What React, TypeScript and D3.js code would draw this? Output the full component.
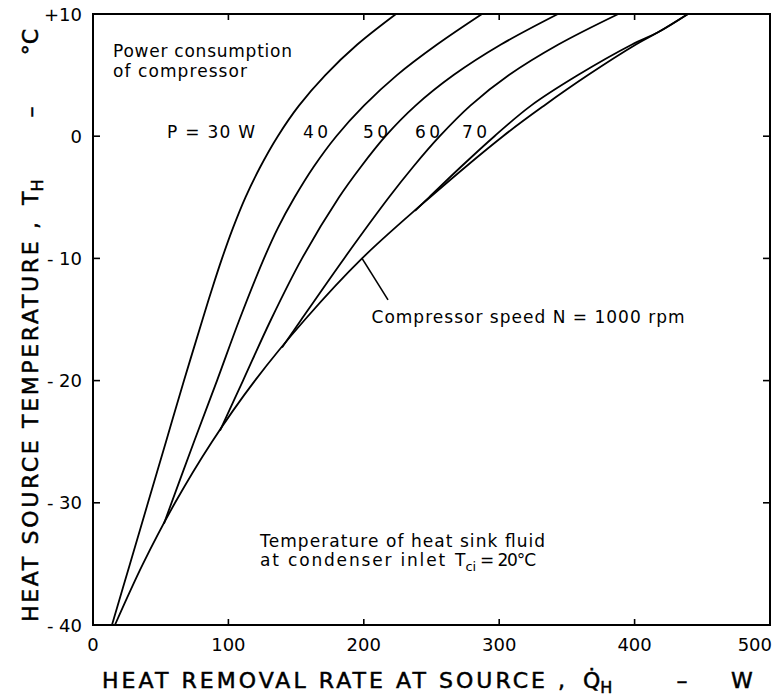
import * as d3 from "d3";

// axis ticks
const xTicks = [0, 100, 200, 300, 400, 500];
const yTicks = [10, 0, -10, -20, -30, -40];
const yTickLabels = ["+10", "0", "- 10", "- 20", "- 30", "- 40"];

// constant power curves, [Q_H (W), T_H (°C)]
const curveP30: [number, number][] = [
  [14.0, -40], [27.3, -35], [40.6, -30], [53.9, -25], [67.2, -20], [80.9, -15],
  [87.9, -12.5], [95.3, -10], [103.4, -7.5], [112.6, -5], [123.6, -2.5],
  [136.5, 0], [152.1, 2.5], [171.6, 5], [195.2, 7.5], [223.8, 10],
];
const curveP40: [number, number][] = [
  [52.4, -31.7], [74.6, -25], [91.6, -20], [108.2, -15], [126.3, -10],
  [136.6, -7.5], [148.9, -5], [163.0, -2.5], [179.7, 0], [200.1, 2.5],
  [224.5, 5], [254.1, 7.5], [287.3, 10],
];
const curveP50: [number, number][] = [
  [93.8, -24.1], [110.8, -20], [131.5, -15], [154.4, -10], [181.7, -5],
  [197.9, -2.5], [216.0, 0], [238.2, 2.5], [266.3, 5], [301.3, 7.5], [343.4, 10],
];
const curveP60: [number, number][] = [
  [139.6, -17.3], [153.9, -15], [185.5, -10], [218.6, -5], [236.5, -2.5],
  [256.1, 0], [278.7, 2.5], [307.2, 5], [343.7, 7.5], [388.0, 10],
];
const curveP70: [number, number][] = [
  [237.8, -6.1], [248.2, -5], [271.8, -2.5], [296.5, 0], [323.5, 2.5],
  [358.2, 5], [398.1, 7.5], [417.3, 8.5], [439.4, 10],
];
// compressor speed N = 1000 rpm
const curveN1000: [number, number][] = [
  [16.2, -40], [36.9, -35], [60.6, -30], [87.9, -25], [119.6, -20],
  [156.6, -15], [198.7, -10], [248.9, -5], [302.8, 0], [333.1, 2.5],
  [365.6, 5], [401.0, 7.5], [417.3, 8.5], [439.4, 10],
];

const powerLabels = ["P = 30 W", "40", "50", "60", "70"];
const powerLabelQ = [54.7, 155.1, 199.4, 237.8, 272.5];

const W = 774;
const H = 699;
const FONT = "'DejaVu Sans', sans-serif";

export default function App() {
  const x = d3.scaleLinear().domain([0, 500]).range([93, 770]);
  const y = d3.scaleLinear().domain([-40, 10]).range([625, 14]);
  const line = d3
    .line<[number, number]>()
    .x((d) => x(d[0]))
    .y((d) => y(d[1]))
    .curve(d3.curveCatmullRom.alpha(0.5));

  const curves = [curveP30, curveP40, curveP50, curveP60, curveP70, curveN1000];
  const [x0, x1] = x.range();
  const [yb, yt] = y.range();
  // heavier lettering for the axis titles
  const heavy = { stroke: "#000", strokeWidth: 0.5 };

  return (
    <div style={{ position: "absolute", left: 0, top: 0 }}>
      <svg width={W} height={H} style={{ display: "block", background: "#fff" }} fontFamily={FONT}>
        {/* frame */}
        <rect x={x0} y={yt} width={x1 - x0} height={yb - yt} fill="none" stroke="#000" strokeWidth={2} />

        {/* x ticks, inward on bottom and top */}
        {xTicks.slice(1, -1).map((t) => (
          <g key={"xt" + t}>
            <line x1={x(t)} x2={x(t)} y1={yb} y2={yb - 6} stroke="#000" strokeWidth={1.6} />
            <line x1={x(t)} x2={x(t)} y1={yt} y2={yt + 6} stroke="#000" strokeWidth={1.6} />
          </g>
        ))}
        {xTicks.map((t, i) => (
          <text
            key={"xl" + t}
            x={i === xTicks.length - 1 ? x(t) + 2 : x(t)}
            y={651}
            fontSize={18}
            textAnchor={i === xTicks.length - 1 ? "end" : "middle"}
          >
            {t}
          </text>
        ))}

        {/* y ticks, inward on left and right */}
        {yTicks.slice(1, -1).map((t) => (
          <g key={"yt" + t}>
            <line x1={x0} x2={x0 + 7} y1={y(t)} y2={y(t)} stroke="#000" strokeWidth={1.6} />
            <line x1={x1} x2={x1 - 7} y1={y(t)} y2={y(t)} stroke="#000" strokeWidth={1.6} />
          </g>
        ))}
        {yTicks.map((t, i) => (
          <text key={"yl" + t} x={82} y={y(t) + 6.5} fontSize={18} textAnchor="end">
            {yTickLabels[i]}
          </text>
        ))}

        {/* curves */}
        {curves.map((c, i) => (
          <path key={"c" + i} d={line(c) ?? ""} fill="none" stroke="#000" strokeWidth={1.8} />
        ))}

        {/* annotations */}
        <text x={113} y={57} fontSize={17} textLength={179} lengthAdjust="spacing">Power consumption</text>
        <text x={113} y={77} fontSize={17} textLength={134} lengthAdjust="spacing">of compressor</text>
        {powerLabels.map((s, i) => (
          <text
            key={"pl" + i}
            x={x(powerLabelQ[i])}
            y={y(-0.15)}
            fontSize={17}
            textLength={i === 0 ? 88 : 25}
            lengthAdjust="spacing"
          >
            {s}
          </text>
        ))}

        <line x1={x(198.7)} y1={y(-10)} x2={x(217.9)} y2={y(-13.4)} stroke="#000" strokeWidth={1.6} />
        <text x={x(205.7)} y={y(-15.3)} fontSize={17} textLength={313} lengthAdjust="spacing">
          Compressor speed  N = 1000 rpm
        </text>

        <text x={x(123.4)} y={y(-33.6)} fontSize={17} textLength={285} lengthAdjust="spacing">
          Temperature of heat sink fluid
        </text>
        <text x={x(123.4)} y={y(-35.2)} fontSize={17} textLength={185} lengthAdjust="spacing">
          at condenser inlet
        </text>
        <text x={455} y={y(-35.2)} fontSize={17}>
          T<tspan fontSize={13} dy={5}>ci</tspan>
        </text>
        <text x={480} y={y(-35.2)} fontSize={17} textLength={56} lengthAdjust="spacing">
          = 20°C
        </text>

        {/* x axis title */}
        <g {...heavy}>
          <text x={102} y={688} fontSize={22} textLength={463} lengthAdjust="spacing">
            HEAT REMOVAL RATE AT SOURCE ,
          </text>
          <text x={583} y={688} fontSize={22}>
            {"Q\u0307"}
            <tspan fontSize={16} dy={5}>H</tspan>
          </text>
          <text x={682} y={688} fontSize={22} textAnchor="middle">–</text>
          <text x={742} y={688} fontSize={22} textAnchor="middle">W</text>
        </g>

        {/* y axis title */}
        <g {...heavy}>
          <text transform="translate(38,622) rotate(-90)" fontSize={22} textLength={400} lengthAdjust="spacing">
            HEAT SOURCE TEMPERATURE ,
          </text>
          <text transform="translate(38,205) rotate(-90)" fontSize={22}>
            T<tspan fontSize={16} dy={5}>H</tspan>
          </text>
          <text transform="translate(38,112) rotate(-90)" fontSize={22} textAnchor="middle">–</text>
          <text transform="translate(38,42) rotate(-90)" fontSize={22} textAnchor="middle">°C</text>
        </g>
      </svg>
    </div>
  );
}
